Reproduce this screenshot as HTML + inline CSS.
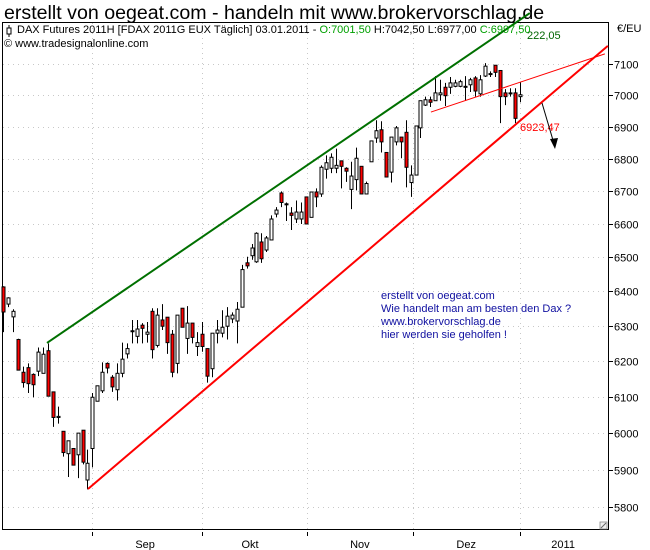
<!DOCTYPE html>
<html><head><meta charset="utf-8"><style>
body{margin:0;background:#fff;width:650px;height:550px;overflow:hidden}
svg{display:block;font-family:"Liberation Sans",sans-serif}
</style></head><body>
<svg id="chart" width="650" height="550" viewBox="0 0 650 550" xmlns="http://www.w3.org/2000/svg">
<text x="4" y="19" font-size="19.6" fill="#000">erstellt von oegeat.com - handeln mit www.brokervorschlag.de</text>
<rect x="2.5" y="22.5" width="606" height="507" fill="none" stroke="#000"/>
<g id="grid"></g>
<g id="candles"></g>
<g id="lines"></g>
<g id="axes"></g>
<text x="17" y="33" font-size="11"><tspan fill="#000">DAX Futures 2011H [FDAX 2011G EUX  Täglich] 03.01.2011 - </tspan><tspan fill="#00a000">O:7001,50</tspan><tspan fill="#000"> H:7042,50 L:6977,00 </tspan><tspan fill="#00a000">C:6997,50</tspan></text>
<g><line x1="9" y1="25" x2="9" y2="37" stroke="#000"/><rect x="7" y="28" width="4" height="6" fill="#fff" stroke="#000"/></g>
<text x="4" y="47" font-size="11">© www.tradesignalonline.com</text>
<text x="617" y="32" font-size="11">€/EU</text>
<text x="527" y="39" font-size="11" fill="#006600">222,05</text>
<text x="520" y="131" font-size="11" fill="#ff0000">6923,47</text>
<g font-size="11" fill="#1010a0">
<text x="381" y="299">erstellt von oegeat.com</text>
<text x="381" y="312">Wie handelt man am besten den Dax ?</text>
<text x="381" y="325">www.brokervorschlag.de</text>
<text x="381" y="338">hier werden sie geholfen !</text>
</g>
<g><line x1="542" y1="103" x2="555" y2="147" stroke="#000"/><polygon points="555,149 550,139 558,138" fill="#000"/></g>
<g><rect x="600" y="522" width="7" height="7" fill="#eee" stroke="#888" stroke-width="0.8"/><line x1="601" y1="528" x2="606" y2="523" stroke="#666"/></g>
</svg>
<script>
const opens=[6413,6363,6326,6261,6168,6181,6162,6171,6165,6229,6113,6042,6004,5943,5957,5940,6007,5872,5957,6087,6116,6193,6154,6119,6165,6220,6285,6270,6302,6276,6342,6244,6317,6325,6276,6193,6351,6264,6308,6241,6276,6235,6178,6279,6279,6299,6320,6314,6354,6484,6505,6487,6546,6522,6552,6630,6694,6659,6633,6615,6615,6682,6620,6697,6691,6767,6770,6770,6793,6770,6705,6735,6776,6691,6790,6864,6890,6819,6758,6852,6867,6882,6726,6749,6896,6968,6985,6982,7001,7025,7025,7028,7028,7025,7033,7055,7004,7061,7067,7096,7079,7007,7005,7007,6995];
const highs=[6415,6383,6348,6263,6184,6193,6165,6238,6238,6250,6113,6072,6004,5978,5957,5999,6007,5954,6110,6130,6196,6196,6160,6193,6252,6250,6317,6317,6308,6311,6351,6351,6363,6325,6288,6331,6351,6357,6308,6282,6311,6235,6279,6317,6345,6354,6339,6369,6478,6502,6540,6575,6572,6564,6626,6651,6699,6665,6651,6671,6665,6682,6697,6708,6779,6810,6816,6831,6793,6773,6790,6834,6776,6729,6855,6920,6917,6819,6867,6902,6867,6920,6779,6902,6982,6995,6995,7061,7049,7039,7058,7049,7049,7061,7055,7061,7064,7103,7076,7096,7079,7019,7022,7022,7042];
const lows=[6282,6354,6282,6174,6125,6110,6098,6157,6165,6101,6016,6025,5935,5880,5912,5877,5914,5847,5906,6087,6110,6165,6113,6089,6154,6207,6250,6250,6250,6252,6207,6238,6288,6220,6154,6165,6296,6220,6250,6214,6226,6139,6154,6250,6267,6261,6308,6250,6354,6467,6493,6484,6484,6516,6552,6620,6651,6609,6582,6603,6600,6600,6620,6651,6682,6738,6755,6755,6708,6728,6645,6702,6691,6691,6790,6849,6819,6743,6726,6841,6801,6711,6682,6749,6864,6965,6962,6982,6982,6965,7004,7025,7025,6982,7010,6995,6995,7058,7058,7058,6911,6968,6995,6911,6977];
const closes=[6340,6381,6342,6174,6139,6136,6133,6225,6219,6101,6042,6045,5946,5978,5912,5999,5920,5917,6098,6130,6168,6180,6127,6165,6205,6235,6286,6291,6293,6282,6232,6331,6299,6252,6168,6331,6296,6308,6267,6252,6241,6157,6279,6288,6296,6328,6331,6348,6464,6475,6528,6572,6496,6558,6615,6642,6665,6661,6626,6636,6636,6600,6697,6682,6773,6787,6804,6779,6776,6761,6746,6801,6691,6723,6855,6887,6852,6743,6867,6896,6852,6773,6749,6902,6982,6985,6977,7007,7007,6998,7039,7039,7043,7028,7049,7013,7049,7093,7069,7073,6995,6995,7007,6926,7001];
const priceTicks=[7100,7000,6900,6800,6700,6600,6500,6400,6300,6200,6100,6000,5900,5800];
const monthLabels=["Sep","Okt","Nov","Dez","2011"];
const monthLabelIdx=[28.6,49.7,71.8,93.2,112.7];
const monthTickIdx=[17.9,40,61.2,82.5,104];
// trendlines: [startIndex, startPrice, endIndex, endPrice]
const greenLine=[8.85,6251,106,7267];
const redLine=[17.1,5848,121.7,7159];
const thinRedLine=[86.1,6946,121.1,7133];

const NS="http://www.w3.org/2000/svg";
const X0=3,DX=4.97,Y7100=64,K=2190.6;
function xs(i){return X0+DX*i;}
function ys(p){return Y7100+K*Math.log(7100/p);}
function mk(tag,attrs,parent){const e=document.createElementNS(NS,tag);for(const k in attrs)e.setAttribute(k,attrs[k]);parent.appendChild(e);return e;}
const grid=document.getElementById('grid'),axes=document.getElementById('axes'),cg=document.getElementById('candles'),lg=document.getElementById('lines');
priceTicks.forEach(p=>{
  const y=Math.round(ys(p))+0.5;
  const g=mk('line',{x1:3,x2:608,y1:y,y2:y,stroke:'#c8c8c8','stroke-dasharray':'1,4'},grid);
  
  
  const t=mk('line',{x1:609,x2:613,y1:y,y2:y,stroke:'#000'},axes);
  
  
  const l=mk('text',{x:614,y:y+4,'font-size':11},axes);
  l.textContent=p;
  
  
});
monthTickIdx.forEach(idx=>{
  const x=Math.round(xs(idx));
  const g=mk('line',{x1:x+0.5,x2:x+0.5,y1:23,y2:529,stroke:'#c8c8c8','stroke-dasharray':'1,4'},grid);
  
  
  const t=mk('line',{x1:x+0.5,x2:x+0.5,y1:532,y2:536,stroke:'#000'},axes);
  
  
});
monthLabels.forEach((m,k)=>{
  const t=mk('text',{x:xs(monthLabelIdx[k]),y:548,'font-size':11,'text-anchor':'middle'},axes);
  t.textContent=m;
  
  
});
for(let i=0;i<opens.length;i++){
  const x=Math.round(xs(i))+0.5,o=opens[i],c=closes[i];
  const g=mk('g',{},cg);
  
  
  mk('line',{x1:x,x2:x,y1:ys(highs[i]),y2:ys(lows[i]),stroke:'#000'},g);
  const top=ys(Math.max(o,c)),bot=ys(Math.min(o,c));
  mk('rect',{x:x-1.5,y:top,width:3,height:Math.max(1,bot-top),fill:c<o?'#ff0000':'#fff',stroke:'#000','stroke-width':1},g);
}
function tl(a,color,w,name){
  const l=mk('line',{x1:xs(a[0]),y1:ys(a[1]),x2:xs(a[2]),y2:ys(a[3]),stroke:color,'stroke-width':w},lg);
  
  
}
tl(greenLine,'#007000',2,'upper-trendline');
tl(redLine,'#ff0000',2,'lower-trendline');
tl(thinRedLine,'#ff0000',1,'wedge-trendline');
</script>
</body></html>
